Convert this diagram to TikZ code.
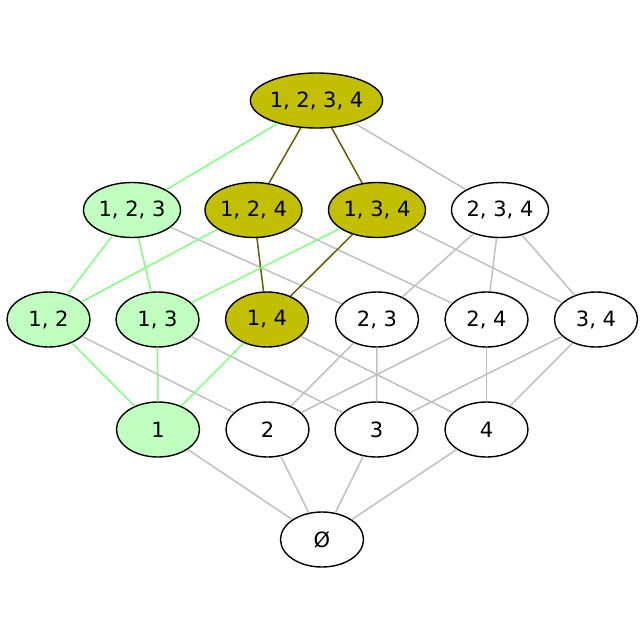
\documentclass[tikz,border=0pt]{standalone}
\usepackage{fontspec}
\setmainfont{DejaVu Sans}
\usetikzlibrary{shapes.geometric}
\definecolor{olivefill}{HTML}{C2BE00}
\definecolor{greenfill}{HTML}{C1FFC1}
\definecolor{greenedge}{HTML}{80FF80}
\definecolor{oliveedge}{HTML}{665C00}
\definecolor{grayedge}{HTML}{C0C0C0}
\tikzset{
  setnode/.style={ellipse, draw=black, line width=1.4pt, inner sep=0pt,
    minimum width=83pt, minimum height=55pt, font=\fontsize{21}{24}\selectfont, fill=white},
  big/.style={minimum width=97pt},
  top/.style={minimum width=119pt},
  ol/.style={fill=olivefill},
  gr/.style={fill=greenfill},
  ge/.style={draw=greenedge, line width=1.5pt},
  oe/.style={draw=oliveedge, line width=1.5pt},
  ye/.style={draw=grayedge, line width=1.5pt}
}
\begin{document}
\begin{tikzpicture}[x=1pt,y=-1pt]
\useasboundingbox (0,0) rectangle (640,640);
\node[setnode,top,ol] (n1234) at (316.5,100.5) {1, 2, 3, 4};
\node[setnode,big,gr] (n123) at (132,210) {1, 2, 3};
\node[setnode,big,ol] (n124) at (253.5,210) {1, 2, 4};
\node[setnode,big,ol] (n134) at (377,210) {1, 3, 4};
\node[setnode,big] (n234) at (500,210) {2, 3, 4};
\node[setnode,gr] (n12) at (48.5,319.5) {1, 2};
\node[setnode,gr] (n13) at (157.5,319.5) {1, 3};
\node[setnode,ol] (n14) at (267,319.5) {1, 4};
\node[setnode] (n23) at (377,319.5) {2, 3};
\node[setnode] (n24) at (486.5,319.5) {2, 4};
\node[setnode] (n34) at (596,319.5) {3, 4};
\node[setnode,gr] (n1) at (158,429.5) {1};
\node[setnode] (n2) at (267.5,429.5) {2};
\node[setnode] (n3) at (376.5,429.5) {3};
\node[setnode] (n4) at (486.5,429.5) {4};
\node[setnode] (n0) at (322,539.5) {Ø};
% edges
\draw[ge] (n1234) -- (n123);
\draw[oe] (n1234) -- (n124);
\draw[oe] (n1234) -- (n134);
\draw[ye] (n1234) -- (n234);
\draw[ge] (n123) -- (n12);
\draw[ge] (n123) -- (n13);
\draw[ye] (n123) -- (n23);
\draw[ge] (n124) -- (n12);
\draw[oe] (n124) -- (n14);
\draw[ye] (n124) -- (n24);
\draw[ge] (n134) -- (n13);
\draw[oe] (n134) -- (n14);
\draw[ye] (n134) -- (n34);
\draw[ye] (n234) -- (n23);
\draw[ye] (n234) -- (n24);
\draw[ye] (n234) -- (n34);
\draw[ge] (n12) -- (n1);
\draw[ye] (n12) -- (n2);
\draw[ge] (n13) -- (n1);
\draw[ye] (n13) -- (n3);
\draw[ge] (n14) -- (n1);
\draw[ye] (n14) -- (n4);
\draw[ye] (n23) -- (n2);
\draw[ye] (n23) -- (n3);
\draw[ye] (n24) -- (n2);
\draw[ye] (n24) -- (n4);
\draw[ye] (n34) -- (n3);
\draw[ye] (n34) -- (n4);
\draw[ye] (n1) -- (n0);
\draw[ye] (n2) -- (n0);
\draw[ye] (n3) -- (n0);
\draw[ye] (n4) -- (n0);
\end{tikzpicture}
\end{document}
